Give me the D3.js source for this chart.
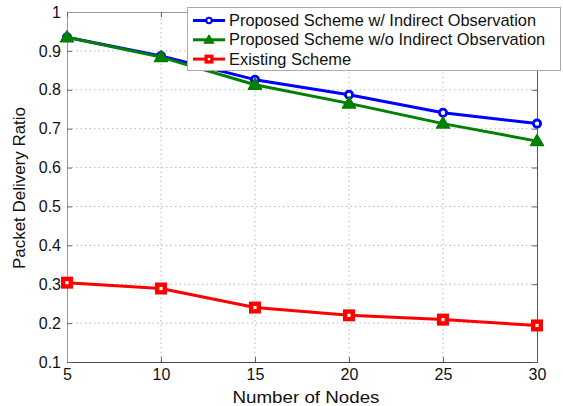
<!DOCTYPE html>
<html>
<head>
<meta charset="utf-8">
<script src="https://cdn.jsdelivr.net/npm/d3@7"></script>
<style>
  html, body { margin: 0; padding: 0; background: #fff; }
  svg { display: block; font-family: "Liberation Sans", Arial, Helvetica, sans-serif; }
</style>
</head>
<body>
<svg id="chart" width="563" height="406"></svg>
<script>
// Packet delivery ratio versus number of nodes
const nodes = [5, 10, 15, 20, 25, 30];
const withIndirect = [0.935, 0.887, 0.826, 0.787, 0.741, 0.713];
const withoutIndirect = [0.935, 0.884, 0.813, 0.765, 0.713, 0.668];
const existing = [0.304, 0.289, 0.240, 0.220, 0.209, 0.194];
const xTicks = [5, 10, 15, 20, 25, 30];
const yTicks = [0.1, 0.2, 0.3, 0.4, 0.5, 0.6, 0.7, 0.8, 0.9, 1];
const seriesNames = [
  "Proposed Scheme w/ Indirect Observation",
  "Proposed Scheme w/o Indirect Observation",
  "Existing Scheme"
];

const series = [
  { name: seriesNames[0], values: withIndirect, color: "#0000ff", marker: "circle" },
  { name: seriesNames[1], values: withoutIndirect, color: "#008000", marker: "triangle" },
  { name: seriesNames[2], values: existing, color: "#ff0000", marker: "square" }
];

const svg = d3.select("#chart");
const margin = { left: 67, right: 26, top: 12, bottom: 44 };
const W = 563, H = 406;
const x = d3.scaleLinear().domain([5, 30]).range([margin.left, W - margin.right]);
const y = d3.scaleLinear().domain([0.1, 1]).range([H - margin.bottom, margin.top]);

// dotted grid
const grid = svg.append("g").attr("stroke", "#b8b8b8").attr("stroke-width", 1)
  .attr("stroke-dasharray", "1.5,3");
grid.selectAll(".gx").data(xTicks.slice(1, -1)).enter().append("line")
  .attr("x1", d => x(d)).attr("x2", d => x(d))
  .attr("y1", y(0.1)).attr("y2", y(1));
grid.selectAll(".gy").data(yTicks.slice(1, -1)).enter().append("line")
  .attr("x1", x(5)).attr("x2", x(30))
  .attr("y1", d => y(d)).attr("y2", d => y(d));

// axes with inward ticks
const tickFont = "16px";
const xAxis = svg.append("g").attr("transform", `translate(0,${y(0.1)})`)
  .call(d3.axisBottom(x).tickValues(xTicks).tickSize(-5).tickPadding(7).tickFormat(d3.format("d")));
const yAxis = svg.append("g").attr("transform", `translate(${x(5)},0)`)
  .call(d3.axisLeft(y).tickValues(yTicks).tickSize(-5).tickPadding(6).tickFormat(d => d === 1 ? "1" : d3.format(".1f")(d)));
const xTop = svg.append("g").attr("transform", `translate(0,${y(1)})`)
  .call(d3.axisTop(x).tickValues(xTicks).tickSize(-5).tickFormat(""));
const yRight = svg.append("g").attr("transform", `translate(${x(30)},0)`)
  .call(d3.axisRight(y).tickValues(yTicks).tickSize(-5).tickFormat(""));

[xAxis, yAxis].forEach(a => {
  a.selectAll("text").attr("fill", "#111").style("font-size", tickFont);
});
xAxis.select(".domain").attr("stroke", "#444");
yRight.select(".domain").attr("stroke", "#555");
yAxis.select(".domain").attr("stroke", "#999");
xTop.select(".domain").attr("stroke", "#999");
[xAxis, yAxis, xTop, yRight].forEach(a => a.selectAll(".tick line").attr("stroke", "#666"));

// axis titles
svg.append("text").attr("x", 306).attr("y", 403)
  .attr("text-anchor", "middle").attr("fill", "#111").style("font-size", "17px")
  .attr("textLength", 147).attr("lengthAdjust", "spacingAndGlyphs")
  .text("Number of Nodes");
svg.append("text").attr("transform", `translate(25,188) rotate(-90)`)
  .attr("text-anchor", "middle").attr("fill", "#111").style("font-size", "17px")
  .attr("textLength", 162).attr("lengthAdjust", "spacingAndGlyphs")
  .text("Packet Delivery Ratio");

// series lines and markers
const line = d3.line().x((d, i) => x(nodes[i])).y(d => y(d));

function drawMarker(g, type, color, cx, cy) {
  if (type === "circle") {
    g.append("circle").attr("cx", cx).attr("cy", cy).attr("r", 3.6)
      .attr("fill", "#fff").attr("stroke", color).attr("stroke-width", 2.8);
  } else if (type === "triangle") {
    g.append("path")
      .attr("d", `M${cx},${cy - 6.5} L${cx + 6.5},${cy + 4.5} L${cx - 6.5},${cy + 4.5} Z`)
      .attr("fill", color).attr("stroke", color).attr("stroke-width", 1.5)
      .attr("stroke-linejoin", "round");
  } else {
    const s = 3.8;
    g.append("rect").attr("x", cx - s).attr("y", cy - s).attr("width", 2 * s).attr("height", 2 * s)
      .attr("fill", "#fff").attr("stroke", color).attr("stroke-width", 4.4);
  }
}

series.forEach(s => {
  const g = svg.append("g");
  g.append("path").datum(s.values).attr("d", line)
    .attr("fill", "none").attr("stroke", s.color).attr("stroke-width", 3)
    .attr("stroke-linejoin", "round");
  s.values.forEach((v, i) => drawMarker(g, s.marker, s.color, x(nodes[i]), y(v)));
});

// legend
const lg = svg.append("g");
lg.append("rect").attr("x", 187.5).attr("y", 7.5).attr("width", 373).attr("height", 63)
  .attr("fill", "#fff").attr("stroke", "#aaa").attr("stroke-width", 1);
series.forEach((s, i) => {
  const cy = 20.5 + i * 19.3;
  lg.append("line").attr("x1", 193).attr("x2", 225).attr("y1", cy).attr("y2", cy)
    .attr("stroke", s.color).attr("stroke-width", 3);
  const mk = lg.append("g").attr("transform", `translate(209,${cy}) scale(0.75) translate(-209,${-cy})`);
  drawMarker(mk, s.marker, s.color, 209, cy);
  lg.append("text").attr("x", 229).attr("y", cy + 5.5).attr("fill", "#111")
    .style("font-size", "16.4px").text(s.name);
});
</script>
</body>
</html>
